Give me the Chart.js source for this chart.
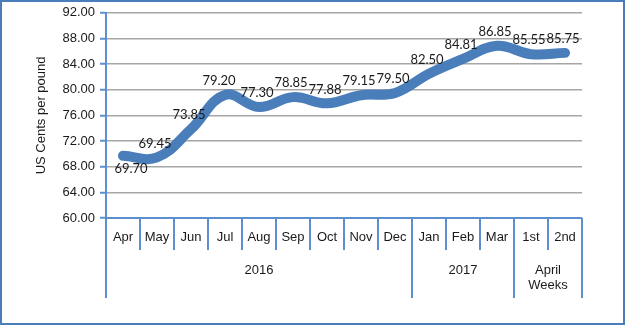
<!DOCTYPE html>
<html>
<head>
<meta charset="utf-8">
<script src="https://cdn.jsdelivr.net/npm/chart.js@4/dist/chart.umd.min.js"></script>
<style>
  html, body { margin: 0; padding: 0; background: #ffffff; }
  #wrap { position: relative; width: 625px; height: 325px; box-sizing: border-box; border: 2px solid #4a7ebb; }
  canvas { position: absolute; left: -2px; top: -2px; }
</style>
</head>
<body>
<div id="wrap"><canvas id="c" width="625" height="325"></canvas></div>
<script>
// Monthly / weekly price series (US cents per pound)
const months = ['Apr', 'May', 'Jun', 'Jul', 'Aug', 'Sep', 'Oct', 'Nov', 'Dec', 'Jan', 'Feb', 'Mar', '1st', '2nd'];
const prices = [69.70, 69.45, 73.85, 79.20, 77.30, 78.85, 77.88, 79.15, 79.50, 82.50, 84.81, 86.85, 85.55, 85.75];
// Outer grouping of the categories: label lines, first index, last index
const groupLabels = [['2016'], ['2017'], ['April', 'Weeks']];
const groupStarts = [0, 9, 12];
const groupEnds = [8, 11, 13];
const yTicks = [60, 64, 68, 72, 76, 80, 84, 88, 92];

const AXIS_BLUE = '#5b8fd0';
const LINE_BLUE = '#4a7ebb';
const TEXT = '#1a1a1a';

const axisDecor = {
  id: 'axisDecor',
  afterDraw(chart) {
    const ctx = chart.ctx;
    const x = chart.scales.x;
    const y = chart.scales.y;
    const area = chart.chartArea;
    const half = (x.getPixelForValue(1) - x.getPixelForValue(0)) / 2;
    ctx.save();
    ctx.strokeStyle = AXIS_BLUE;
    ctx.lineWidth = 2;
    // bottom axis line
    ctx.beginPath();
    ctx.moveTo(area.left, area.bottom);
    ctx.lineTo(area.right, area.bottom);
    ctx.stroke();
    // short separators between months
    for (let i = 0; i <= months.length; i++) {
      const px = Math.round(x.getPixelForValue(0) - half + i * 2 * half);
      const isGroupEdge = i === 0 || i === months.length || groupStarts.includes(i);
      ctx.beginPath();
      ctx.moveTo(px, area.bottom);
      ctx.lineTo(px, isGroupEdge ? area.bottom + 80 : area.bottom + 32);
      ctx.stroke();
    }
    // month labels
    ctx.fillStyle = TEXT;
    ctx.font = '13px "Liberation Sans", Arial, sans-serif';
    ctx.textAlign = 'center';
    ctx.textBaseline = 'middle';
    months.forEach((m, i) => ctx.fillText(m, x.getPixelForValue(i), area.bottom + 19));
    // group labels
    groupLabels.forEach((lines, g) => {
      const cx = (x.getPixelForValue(groupStarts[g]) + x.getPixelForValue(groupEnds[g])) / 2;
      lines.forEach((t, k) => ctx.fillText(t, cx, area.bottom + 52 + k * 15));
    });
    // y axis title
    ctx.save();
    ctx.translate(41, (area.top + area.bottom) / 2);
    ctx.rotate(-Math.PI / 2);
    ctx.fillText('US Cents per pound', 0, 0);
    ctx.restore();
    // value labels
    ctx.font = '13px Lato, "Open Sans", sans-serif';
    const meta = chart.getDatasetMeta(0);
    meta.data.forEach((pt, i) => {
      const below = i === 0;
      const dx = below ? 8 : (i === 3 ? -6 : -2);
      const dy = below ? 13 : -14;
      ctx.fillText(prices[i].toFixed(2), pt.x + dx, pt.y + dy);
    });
    ctx.restore();
  }
};

new Chart(document.getElementById('c'), {
  type: 'line',
  data: {
    labels: months,
    datasets: [{
      data: prices,
      borderColor: LINE_BLUE,
      borderWidth: 10,
      borderCapStyle: 'round',
      borderJoinStyle: 'round',
      pointRadius: 0,
      tension: 0.4,
      fill: false
    }]
  },
  options: {
    responsive: false,
    animation: false,
    devicePixelRatio: 1,
    layout: { padding: { top: 10, right: 43, bottom: 27, left: 0 } },
    plugins: { legend: { display: false }, tooltip: { enabled: false } },
    scales: {
      x: {
        type: 'category',
        offset: true,
        grid: { display: false },
        border: { display: false },
        ticks: { display: false },
        afterFit(s) { s.height = 80; }
      },
      y: {
        min: 60,
        max: 92,
        afterBuildTicks(s) { s.ticks = yTicks.map(v => ({ value: v })); },
        afterFit(s) { s.width = 106; },
        border: { display: true, color: AXIS_BLUE, width: 2 },
        grid: {
          color: (c) => c.tick && c.tick.value === 60 ? 'rgba(0,0,0,0)' : '#a6a6a6',
          lineWidth: 1.5,
          tickColor: AXIS_BLUE,
          tickLength: 6,
          tickWidth: 2
        },
        ticks: {
          color: TEXT,
          padding: 5,
          font: { family: '"Liberation Sans", Arial, sans-serif', size: 13 },
          callback: (v) => Number(v).toFixed(2)
        }
      }
    }
  },
  plugins: [axisDecor]
});
</script>
</body>
</html>
